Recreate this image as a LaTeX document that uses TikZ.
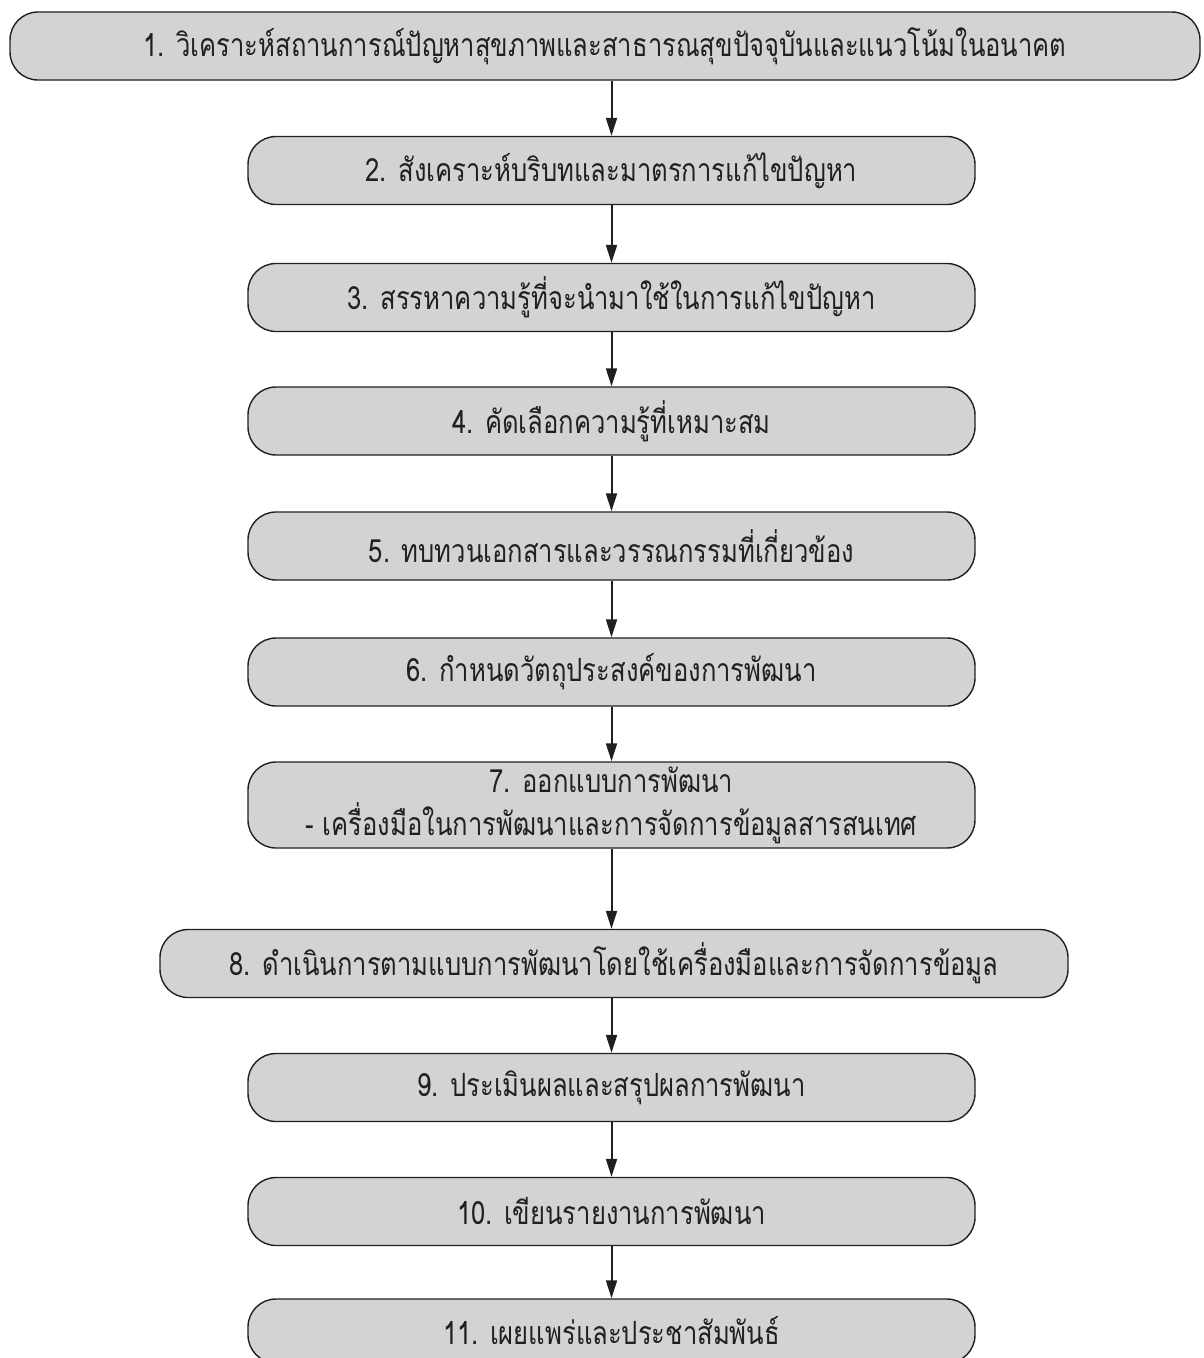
\documentclass[tikz,border=0pt]{standalone}
\usepackage{fontspec}
\newfontfamily\thaifont[Script=Thai, FakeStretch=0.8]{Loma}
\usetikzlibrary{arrows.meta}
\definecolor{boxfill}{HTML}{D1D3D4}
\definecolor{ink}{HTML}{231F20}
\begin{document}
\begin{tikzpicture}[x=1pt,y=-1pt,
  stepbox/.style={draw=ink, line width=1.4pt, fill=boxfill, rounded corners=28pt,
    minimum height=68pt, minimum width=727pt, inner sep=0pt,
    font=\thaifont\fontsize{32}{43}\selectfont, text=ink, align=center},
  flow/.style={draw=ink, line width=2pt, -{Triangle[length=18pt,width=11pt]}}]
\useasboundingbox (0,0) rectangle (1203,1358);
\clip (0,0) rectangle (1203,1358);

\node[stepbox, minimum width=1190pt] (b1) at (605,46)
  {1. วิเคราะห์สถานการณ์ปัญหาสุขภาพและสาธารณสุขปัจจุบันและแนวโน้มในอนาคต};
\node[stepbox] (b2) at (611.5,170.5) {2. สังเคราะห์บริบทและมาตรการแก้ไขปัญหา};
\node[stepbox] (b3) at (611.5,297.5) {3. สรรหาความรู้ที่จะนำมาใช้ในการแก้ไขปัญหา};
\node[stepbox] (b4) at (611.5,421) {4. คัดเลือกความรู้ที่เหมาะสม};
\node[stepbox] (b5) at (611.5,546) {5. ทบทวนเอกสารและวรรณกรรมที่เกี่ยวข้อง};
\node[stepbox] (b6) at (611.5,672) {6. กำหนดวัตถุประสงค์ของการพัฒนา};
\node[stepbox, minimum height=86pt] (b7) at (611.5,805)
  {7. ออกแบบการพัฒนา\\- เครื่องมือในการพัฒนาและการจัดการข้อมูลสารสนเทศ};
\node[stepbox, minimum width=908pt] (b8) at (614,963.5)
  {8. ดำเนินการตามแบบการพัฒนาโดยใช้เครื่องมือและการจัดการข้อมูล};
\node[stepbox] (b9) at (611.5,1087.5) {9. ประเมินผลและสรุปผลการพัฒนา};
\node[stepbox] (b10) at (611.5,1211.5) {10. เขียนรายงานการพัฒนา};
\node[stepbox, minimum height=64pt] (b11) at (611.5,1331) {11. เผยแพร่และประชาสัมพันธ์};

\draw[flow] (b1.south -| b2.north) -- (b2.north);
\draw[flow] (b2) -- (b3);
\draw[flow] (b3) -- (b4);
\draw[flow] (b4) -- (b5);
\draw[flow] (b5) -- (b6);
\draw[flow] (b6) -- (b7);
\draw[flow] (b7.south) -- (b8.north -| b7.south);
\draw[flow] (b8.south -| b9.north) -- (b9.north);
\draw[flow] (b9) -- (b10);
\draw[flow] (b10) -- (b11);
\end{tikzpicture}
\end{document}
